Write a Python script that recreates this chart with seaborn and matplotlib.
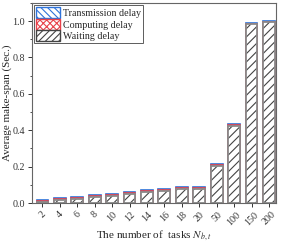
import matplotlib
matplotlib.use("Agg")
import matplotlib.pyplot as plt
import seaborn as sns
import numpy as np
from matplotlib.patches import Patch
from matplotlib.ticker import MultipleLocator

tasks = ["2", "4", "6", "8", "10", "12", "14", "16", "18", "20", "50", "100", "150", "200"]
waiting = [0.006, 0.018, 0.024, 0.035, 0.040, 0.049, 0.058, 0.066, 0.079, 0.079, 0.205, 0.424, 0.983, 0.994]
computing = [0.006, 0.006, 0.006, 0.006, 0.006, 0.006, 0.006, 0.006, 0.006, 0.006, 0.006, 0.006, 0.0, 0.0]
transmission = [0.006, 0.005, 0.005, 0.005, 0.005, 0.005, 0.005, 0.005, 0.005, 0.005, 0.005, 0.005, 0.004, 0.004]

sns.set_style("ticks")
plt.rcParams["font.family"] = ["Liberation Serif", "DejaVu Serif"]
plt.rcParams["mathtext.fontset"] = "stix"
plt.rcParams["hatch.linewidth"] = 0.8

w = np.array(waiting)
c = np.array(computing)
t = np.array(transmission)

blue = "#2f73d8"
red = "#e8414a"
gray = "#8a8a8a"
hatch_dark = "#444444"
bw = 0.68

fig = plt.figure(figsize=(2.83, 2.44), dpi=100)
ax = fig.add_axes([0.113, 0.168, 0.862, 0.820])

sns.barplot(x=tasks, y=w + c + t, order=tasks, color="white", saturation=1,
            edgecolor=blue, hatch="\\\\\\\\\\", linewidth=1.2, width=bw, ax=ax)
sns.barplot(x=tasks, y=w + c, order=tasks, color="white", saturation=1,
            edgecolor=red, hatch="xxxxx", linewidth=1.2, width=bw, ax=ax)
sns.barplot(x=tasks, y=w, order=tasks, color="white", saturation=1,
            edgecolor=hatch_dark, hatch="////", linewidth=0, width=bw, ax=ax)
sns.barplot(x=tasks, y=w, order=tasks, fill=False, saturation=1,
            edgecolor=gray, linewidth=1.3, width=bw, ax=ax)

ax.set_ylim(0, 1.1)
ax.set_xlim(-0.6, 13.4)
ax.yaxis.set_major_locator(MultipleLocator(0.2))
ax.yaxis.set_minor_locator(MultipleLocator(0.1))
ax.yaxis.set_major_formatter(matplotlib.ticker.FormatStrFormatter("%.1f"))
ax.tick_params(axis="both", which="major", labelsize=7.2, length=3, width=0.7, colors="#333333", pad=2)
ax.tick_params(axis="both", which="minor", length=1.8, width=0.6, colors="#333333")
for lbl in ax.get_xticklabels():
    lbl.set_rotation(45)
    lbl.set_ha("center")
for s in ax.spines.values():
    s.set_visible(True)
    s.set_color("#666666")
    s.set_linewidth(0.8)

ax.set_xlabel("The number of  tasks $N_{b,t}$", fontsize=8, labelpad=1)
ax.set_ylabel("Average make-span (Sec.)", fontsize=8)
ax.yaxis.set_label_coords(-0.082, 0.5)

handles = [
    Patch(facecolor="white", edgecolor=blue, hatch="\\\\\\\\\\", lw=1.0, label="Transmission delay"),
    Patch(facecolor="white", edgecolor=red, hatch="xxxxx", lw=1.0, label="Computing delay"),
    Patch(facecolor="white", edgecolor=hatch_dark, hatch="/////", lw=1.0, label="Waiting delay"),
]
leg = ax.legend(handles=handles, loc="upper left", fontsize=7.2, frameon=True, fancybox=False,
                edgecolor="#333333", handlelength=2.4, handleheight=1.3, labelspacing=0.05,
                borderpad=0.2, handletextpad=0.3, borderaxespad=0.25)
leg.get_frame().set_linewidth(0.7)

fig.savefig("out.png", dpi=100)
